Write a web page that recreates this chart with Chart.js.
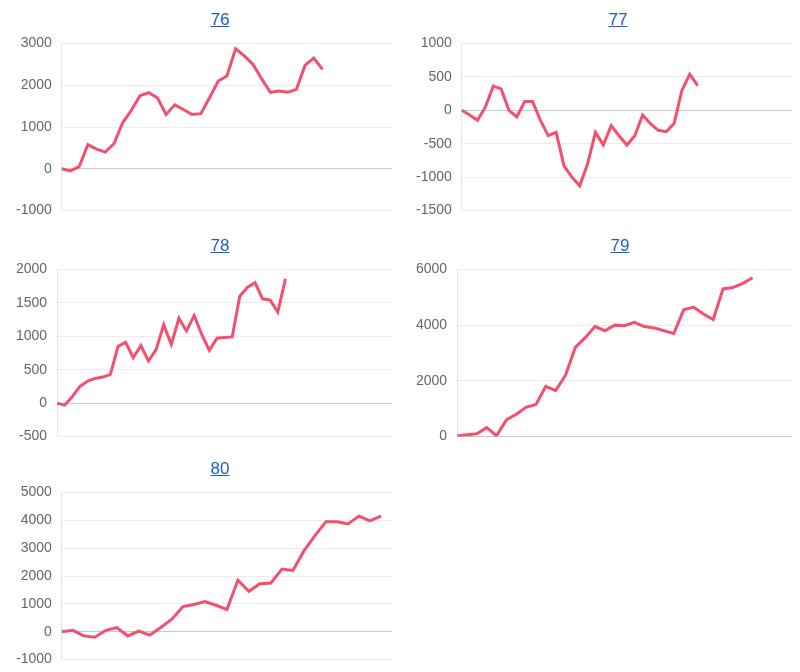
<!DOCTYPE html>
<html>
<head>
<meta charset="utf-8">
<script src="https://cdn.jsdelivr.net/npm/chart.js@4"></script>
<style>
  body { margin: 0; background: #fff; font-family: "Liberation Sans", Arial, sans-serif; overflow: hidden; }
  .cell { position: absolute; width: 400px; height: 224px; }
  .cell a { position: absolute; top: 10px; width: 100%; text-align: center; color: #1a5fc8; font-size: 17px; text-decoration: underline; }
  .cell .box { position: absolute; left: 0; top: 25px; width: 400px; height: 204px; }
</style>
</head>
<body>
<div class="cell" style="left:0;top:0"><a style="left:20px">76</a><div class="box"><canvas id="c76"></canvas></div></div>
<div class="cell" style="left:400px;top:0"><a style="left:18px">77</a><div class="box"><canvas id="c77"></canvas></div></div>
<div class="cell" style="left:0;top:226px"><a style="left:20px">78</a><div class="box"><canvas id="c78"></canvas></div></div>
<div class="cell" style="left:400px;top:226px"><a style="left:20px">79</a><div class="box"><canvas id="c79"></canvas></div></div>
<div class="cell" style="left:0;top:449px"><a style="left:20px">80</a><div class="box"><canvas id="c80"></canvas></div></div>
<script>
// cumulative values per machine
const data76 = [0, -50, 50, 580, 470, 400, 600, 1100, 1400, 1750, 1820, 1700, 1300, 1530, 1420, 1300, 1320, 1700, 2100, 2220, 2870, 2700, 2500, 2150, 1830, 1860, 1830, 1900, 2480, 2650, 2380];
const data77 = [0, -70, -150, 50, 360, 320, 0, -100, 130, 130, -150, -380, -330, -830, -1000, -1130, -800, -330, -520, -230, -380, -520, -380, -70, -200, -300, -320, -200, 300, 540, 370];
const data78 = [0, -30, 100, 250, 330, 370, 390, 430, 850, 910, 680, 860, 630, 800, 1170, 880, 1270, 1080, 1310, 1030, 790, 970, 980, 990, 1600, 1730, 1800, 1560, 1540, 1360, 1860];
const data79 = [20, 70, 100, 320, 30, 600, 800, 1050, 1150, 1800, 1650, 2200, 3200, 3550, 3950, 3800, 4000, 3980, 4100, 3950, 3900, 3800, 3700, 4550, 4650, 4400, 4200, 5300, 5350, 5500, 5700];
const data80 = [0, 50, -150, -200, 50, 150, -150, 20, -120, 150, 450, 900, 980, 1080, 950, 800, 1850, 1450, 1720, 1750, 2250, 2200, 2900, 3450, 3950, 3950, 3870, 4150, 3980, 4150];

// x slots per chart and y axis ranges
const slots = { c76: 39, c77: 43, c78: 45, c79: 35, c80: 31 };
const yMin = { c76: -1000, c77: -1500, c78: -500, c79: 0, c80: -1000 };
const yMax = { c76: 3000, c77: 1000, c78: 2000, c79: 6000, c80: 5000 };
const yStep = { c76: 1000, c77: 500, c78: 500, c79: 2000, c80: 1000 };

function makeChart(id, values) {
  const labels = Array.from({ length: slots[id] }, () => "");
  new Chart(document.getElementById(id), {
    type: "line",
    data: {
      labels: labels,
      datasets: [{
        data: values,
        borderColor: "#f2506e",
        borderWidth: 3,
        pointRadius: 0,
        fill: false,
        tension: 0
      }]
    },
    options: {
      responsive: true,
      maintainAspectRatio: false,
      animation: false,
      layout: { padding: { left: 6, right: 8, bottom: 2 } },
      plugins: { legend: { display: false }, tooltip: { enabled: false } },
      scales: {
        x: { offset: false, ticks: { display: false }, grid: { display: false }, border: { display: false } },
        y: {
          min: yMin[id], max: yMax[id],
          ticks: { stepSize: yStep[id], color: "#666", font: { size: 14 }, padding: 10, callback: v => String(v) },
          grid: {
            color: ctx => ctx.tick && ctx.tick.value === 0 ? "#c8c8c8" : "#ececec",
            drawTicks: false
          },
          border: { display: true, color: "#e6e6e6" }
        }
      }
    }
  });
}

makeChart("c76", data76);
makeChart("c77", data77);
makeChart("c78", data78);
makeChart("c79", data79);
makeChart("c80", data80);
</script>
</body>
</html>
